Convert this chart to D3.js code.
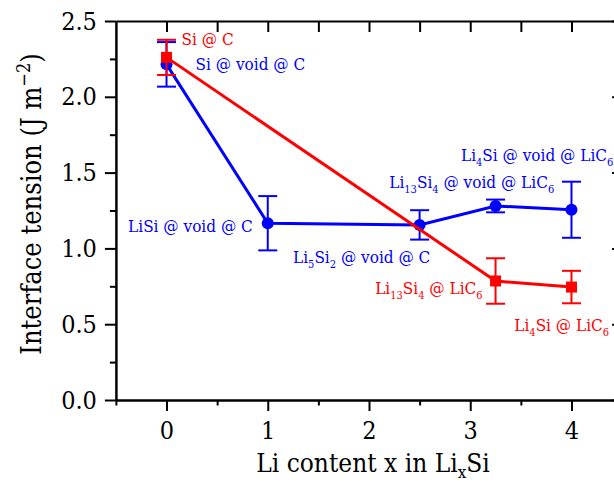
<!DOCTYPE html>
<html>
<head>
<meta charset="utf-8">
<script src="https://cdn.jsdelivr.net/npm/d3@7"></script>
<style>
  body { margin: 0; background: #fff; }
  svg { display: block; }
  svg text { font-family: "DejaVu Serif Condensed", "DejaVu Serif", serif; font-stretch: condensed; }
</style>
</head>
<body>
<div id="chart"></div>
<script>
// Li content x for each structure
const voidX = [0, 1, 2.5, 3.25, 4];
const voidValues = [2.214, 1.166, 1.155, 1.28, 1.255];
const voidErrors = [0.147, 0.179, 0.097, 0.042, 0.185];
const voidLabels = ["Si @ void @ C", "LiSi @ void @ C", "Li_{5}Si_{2} @ void @ C",
  "Li_{13}Si_{4} @ void @ LiC_{6}", "Li_{4}Si @ void @ LiC_{6}"];

const directX = [0, 3.25, 4];
const directValues = [2.26, 0.785, 0.745];
const directErrors = [0.116, 0.15, 0.107];
const directLabels = ["Si @ C", "Li_{13}Si_{4} @ LiC_{6}", "Li_{4}Si @ LiC_{6}"];

const xTicks = [0, 1, 2, 3, 4];
const xMinorTicks = [-0.5, 0.5, 1.5, 2.5, 3.5, 4.5];
const yTicks = [0, 0.5, 1, 1.5, 2, 2.5];
const yMinorTicks = [0.25, 0.75, 1.25, 1.75, 2.25];

// label offsets from their point, in pixels
const voidLabelPos = [[29, 6, "start"], [-15, 8.5, "end"], [-126.6, 38, "start"],
  [-106.3, -17.7, "start"], [-110.5, -49, "start"]];
const directLabelPos = [[15, -12, "start"], [-13, 13.3, "end"], [-57.2, 44.2, "start"]];

const width = 614, height = 495;
const svg = d3.select("#chart").append("svg")
  .attr("width", width)
  .attr("height", height);
svg.append("rect").attr("width", width).attr("height", height).attr("fill", "#fff");

const x = d3.scaleLinear().domain([-0.5, 4.5]).range([115.9, 622.1]);
const y = d3.scaleLinear().domain([0, 2.5]).range([400, 21]);

function styleAxis(g) {
  g.attr("font-family", null);
  g.select(".domain").attr("stroke", "#000").attr("stroke-width", 2);
  g.selectAll(".tick line").attr("stroke", "#000").attr("stroke-width", 2);
  g.selectAll(".tick text").attr("fill", "#000");
}

// minor ticks
svg.append("g").attr("transform", `translate(${x(-0.5)},0)`)
  .call(d3.axisLeft(y).tickValues(yMinorTicks).tickSize(6).tickSizeOuter(0).tickFormat(""))
  .call(styleAxis);
svg.append("g").attr("transform", `translate(0,${y(0)})`)
  .call(d3.axisBottom(x).tickValues(xMinorTicks).tickSize(5.5).tickSizeOuter(0).tickFormat(""))
  .call(styleAxis);

// major axes
svg.append("g").attr("transform", `translate(${x(-0.5)},0)`)
  .call(d3.axisLeft(y).tickValues(yTicks).tickSize(11).tickSizeOuter(0).tickPadding(8)
    .tickFormat(d3.format(".1f")))
  .call(styleAxis)
  .attr("font-size", 25);

svg.append("g").attr("transform", `translate(0,${y(0)})`)
  .call(d3.axisBottom(x).tickValues(xTicks).tickSize(11).tickSizeOuter(0).tickPadding(10)
    .tickFormat(d3.format("d")))
  .call(styleAxis)
  .attr("font-size", 25);

svg.append("g").attr("transform", `translate(0,${y(2.5)})`)
  .call(d3.axisTop(x).tickValues(xTicks.concat(xMinorTicks.slice(1, -1))).tickSize(-11).tickSizeOuter(0).tickFormat(""))
  .call(styleAxis);

svg.append("g").attr("transform", `translate(${x(4.5)},0)`)
  .call(d3.axisRight(y).tickValues(yTicks).tickSize(-10).tickSizeOuter(0).tickFormat(""))
  .call(styleAxis);

// axis titles
const xTitle = svg.append("text")
  .attr("x", (x(-0.5) + x(4.5)) / 2 + 4)
  .attr("y", 472)
  .attr("text-anchor", "middle")
  .attr("font-size", 26);
xTitle.append("tspan").text("Li content x in Li");
xTitle.append("tspan").attr("font-size", 17).attr("dy", 6).text("x");
xTitle.append("tspan").attr("dy", -6).text("Si");

const yTitle = svg.append("text")
  .attr("transform", "translate(41,204) rotate(-90)")
  .attr("text-anchor", "middle")
  .attr("font-size", 27);
yTitle.append("tspan").text("Interface tension (J m");
yTitle.append("tspan").attr("font-size", 18).attr("dy", -11).text("\u22122");
yTitle.append("tspan").attr("dy", 11).text(")");

function drawSeries(xs, vals, errs, color, shape) {
  const pts = xs.map((d, i) => ({ x: d, v: vals[i], e: errs[i] }));
  const g = svg.append("g");
  g.append("path")
    .datum(pts)
    .attr("fill", "none")
    .attr("stroke", color)
    .attr("stroke-width", 3)
    .attr("d", d3.line().x(d => x(d.x)).y(d => y(d.v)));

  const eb = g.selectAll(".err").data(pts).enter().append("g")
    .attr("stroke", color).attr("stroke-width", 2);
  eb.append("line")
    .attr("x1", d => x(d.x)).attr("x2", d => x(d.x))
    .attr("y1", d => y(d.v - d.e)).attr("y2", d => y(d.v + d.e));
  eb.append("line")
    .attr("x1", d => x(d.x) - 9.5).attr("x2", d => x(d.x) + 9.5)
    .attr("y1", d => y(d.v + d.e)).attr("y2", d => y(d.v + d.e));
  eb.append("line")
    .attr("x1", d => x(d.x) - 9.5).attr("x2", d => x(d.x) + 9.5)
    .attr("y1", d => y(d.v - d.e)).attr("y2", d => y(d.v - d.e));

  if (shape === "circle") {
    g.selectAll(".mk").data(pts).enter().append("circle")
      .attr("cx", d => x(d.x)).attr("cy", d => y(d.v))
      .attr("r", 6).attr("fill", color);
  } else {
    g.selectAll(".mk").data(pts).enter().append("rect")
      .attr("x", d => x(d.x) - 5.5).attr("y", d => y(d.v) - 5.5)
      .attr("width", 11).attr("height", 11).attr("fill", color);
  }
}

function addLabel(str, px, py, pos, color) {
  const t = svg.append("text")
    .attr("x", px + pos[0]).attr("y", py + pos[1])
    .attr("text-anchor", pos[2])
    .attr("font-size", 17)
    .attr("fill", color);
  const parts = str.split(/_\{([^}]*)\}/);
  parts.forEach((p, i) => {
    if (!p) return;
    if (i % 2 === 1) {
      t.append("tspan").attr("font-size", 11).attr("dy", 5).text(p);
    } else {
      const s = t.append("tspan").text(p);
      if (i > 0) s.attr("dy", -5);
    }
  });
}

drawSeries(voidX, voidValues, voidErrors, "#0000ff", "circle");
drawSeries(directX, directValues, directErrors, "#ff0000", "square");

voidLabels.forEach((l, i) => addLabel(l, x(voidX[i]), y(voidValues[i]), voidLabelPos[i], "#0000ff"));
directLabels.forEach((l, i) => addLabel(l, x(directX[i]), y(directValues[i]), directLabelPos[i], "#ff0000"));
</script>
</body>
</html>
